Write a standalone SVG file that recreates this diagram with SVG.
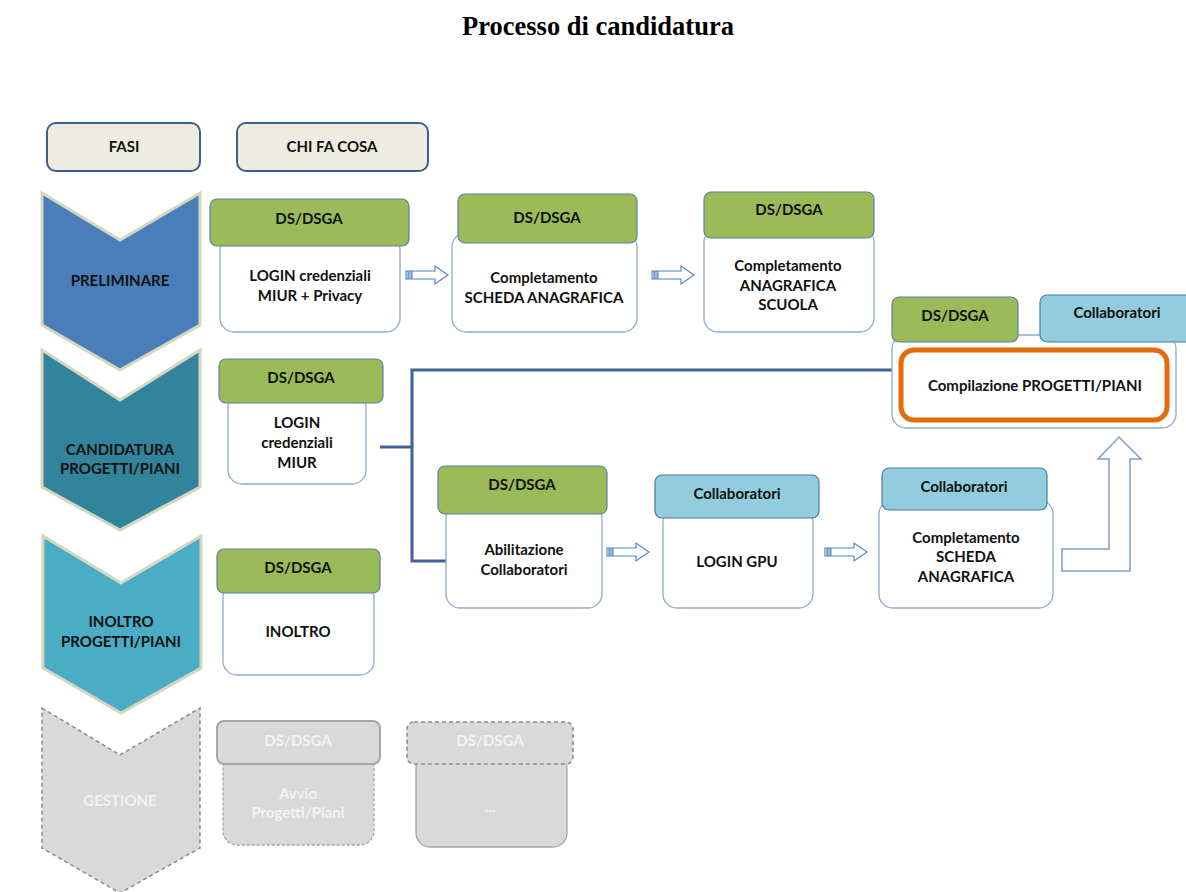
<svg xmlns="http://www.w3.org/2000/svg" width="1186" height="892" viewBox="0 0 1186 892">
<style>
text{font-family:Lato,"Liberation Sans",sans-serif;font-weight:bold;text-anchor:middle;fill:#111}
.title{font-family:"Liberation Serif",serif;font-size:26.5px;fill:#000}
.t{font-size:15px}
.h{font-size:15px}
.lbl{fill:#EEECE1;stroke:#3D5F8C;stroke-width:2}
.green{fill:#9BBB59;stroke:#5E7FA3;stroke-width:1.2}
.blue{fill:#93CDDD;stroke:#4A78AE;stroke-width:1.2}
.body{fill:#fff;stroke:#8EAAD2;stroke-width:1.3}
.chev{stroke:#D2D7BE;stroke-width:3}
.grayh{fill:#D9D9D9;stroke:#A6A6A6;stroke-width:2}
.grayd{fill:#D9D9D9;stroke:#A6A6A6;stroke-width:1.3;stroke-dasharray:3 2}
.grayt{fill:#F2F2F2}
.conn{fill:none;stroke:#3E6394;stroke-width:3}
.arr{fill:#fff;stroke:#4F81BD;stroke-width:1.1}
</style>
<defs>
<g id="sarrow" class="arr">
<rect x="0" y="-4" width="2" height="8"/>
<rect x="3" y="-4" width="2" height="8"/>
<polygon points="6,-4 29,-4 29,-9 42,0 29,9 29,4 6,4"/>
</g>
</defs>
<rect width="1186" height="892" fill="#fff"/>
<text class="title" x="598" y="35">Processo di candidatura</text>

<g id="fasi"><rect class="lbl" x="47" y="123" width="153" height="48" rx="9"/><text class="t" x="124" y="152">FASI</text></g>
<g id="chi-fa-cosa"><rect class="lbl" x="237" y="123" width="191" height="48" rx="9"/><text class="t" x="332" y="152">CHI FA COSA</text></g>

<g id="fase-preliminare"><path class="chev" fill="#4A7EBB" d="M42,193 L120,240 L200,193 L200,325 L120,370 L42,325 Z"/><text class="t" x="120" y="286">PRELIMINARE</text></g>
<g id="fase-candidatura"><path class="chev" fill="#31849B" d="M42,350 L120,400 L200,350 L200,487 L120,530 L42,487 Z"/><text class="t" x="120" y="455">CANDIDATURA</text><text class="t" x="120" y="474">PROGETTI/PIANI</text></g>
<g id="fase-inoltro"><path class="chev" fill="#4BACC6" d="M43,536 L121,583 L201,536 L201,668 L121,713 L43,668 Z"/><text class="t" x="121" y="627">INOLTRO</text><text class="t" x="121" y="647">PROGETTI/PIANI</text></g>
<g id="fase-gestione"><path fill="#D9D9D9" stroke="#8C8C8C" stroke-width="1.5" stroke-dasharray="4 3" d="M42,708 L120,755 L200,708 L200,848 L120,893 L42,848 Z"/><text class="t grayt" x="120" y="806">GESTIONE</text></g>

<g id="connectors">
<polyline class="conn" points="380,447 412,447"/>
<polyline class="conn" points="892,370 412,370 412,561 446,561"/>
<use href="#sarrow" x="406" y="275"/>
<use href="#sarrow" x="652" y="275"/>
<use href="#sarrow" x="607" y="552"/>
<use href="#sarrow" x="825" y="552"/>
<path fill="#fff" stroke="#7F9CC9" stroke-width="1.5" d="M1062,549 L1109,549 L1109,459 L1098,459 L1119,437 L1141,459 L1130,459 L1130,571 L1062,571 Z"/>
</g>

<g id="login-privacy">
<rect class="body" x="220" y="236" width="180" height="96" rx="14"/>
<rect class="green" x="210" y="199" width="199" height="47" rx="7"/>
<text class="h" x="309" y="224">DS/DSGA</text>
<text class="t" x="310" y="281">LOGIN credenziali</text>
<text class="t" x="310" y="301">MIUR  + Privacy</text>
</g>
<g id="scheda-anagrafica">
<rect class="body" x="452" y="233" width="185" height="99" rx="14"/>
<rect class="green" x="458" y="194" width="179" height="49" rx="7"/>
<text class="h" x="547" y="223">DS/DSGA</text>
<text class="t" x="544" y="283">Completamento</text>
<text class="t" x="544" y="303">SCHEDA ANAGRAFICA</text>
</g>
<g id="anagrafica-scuola">
<rect class="body" x="704" y="228" width="170" height="104" rx="14"/>
<rect class="green" x="704" y="192" width="170" height="46" rx="7"/>
<text class="h" x="789" y="215">DS/DSGA</text>
<text class="t" x="788" y="271">Completamento</text>
<text class="t" x="788" y="291">ANAGRAFICA</text>
<text class="t" x="788" y="310">SCUOLA</text>
</g>

<g id="login-miur">
<rect class="body" x="228" y="393" width="138" height="91" rx="14"/>
<rect class="green" x="219" y="359" width="164" height="44" rx="7"/>
<text class="h" x="301" y="383">DS/DSGA</text>
<text class="t" x="297" y="428">LOGIN</text>
<text class="t" x="297" y="448">credenziali</text>
<text class="t" x="297" y="468">MIUR</text>
</g>
<g id="compilazione">
<rect class="body" x="892" y="335" width="284" height="93" rx="14"/>
<rect class="green" x="892" y="297" width="126" height="45" rx="7"/>
<rect class="blue" x="1040" y="295" width="156" height="47" rx="7"/>
<text class="h" x="955" y="321">DS/DSGA</text>
<text class="h" x="1117" y="318">Collaboratori</text>
<rect x="901" y="350" width="266" height="70" rx="13" fill="#fff" stroke="#E46C0A" stroke-width="5"/>
<text class="t" x="1035" y="391">Compilazione PROGETTI/PIANI</text>
</g>
<g id="abilitazione">
<rect class="body" x="446" y="504" width="156" height="104" rx="14"/>
<rect class="green" x="438" y="466" width="169" height="48" rx="7"/>
<text class="h" x="522" y="490">DS/DSGA</text>
<text class="t" x="524" y="555">Abilitazione</text>
<text class="t" x="524" y="575">Collaboratori</text>
</g>
<g id="login-gpu">
<rect class="body" x="663" y="508" width="150" height="100" rx="14"/>
<rect class="blue" x="655" y="475" width="164" height="43" rx="7"/>
<text class="h" x="737" y="499">Collaboratori</text>
<text class="t" x="737" y="567">LOGIN GPU</text>
</g>
<g id="scheda-anagrafica-collab">
<rect class="body" x="879" y="500" width="174" height="108" rx="14"/>
<rect class="blue" x="882" y="468" width="165" height="42" rx="7"/>
<text class="h" x="964" y="492">Collaboratori</text>
<text class="t" x="966" y="543">Completamento</text>
<text class="t" x="966" y="562">SCHEDA</text>
<text class="t" x="966" y="582">ANAGRAFICA</text>
</g>

<g id="inoltro">
<rect class="body" x="223" y="583" width="151" height="92" rx="14"/>
<rect class="green" x="217" y="549" width="163" height="44" rx="7"/>
<text class="h" x="298" y="573">DS/DSGA</text>
<text class="t" x="298" y="637">INOLTRO</text>
</g>
<g id="avvio">
<rect class="grayd" x="223" y="754" width="151" height="91" rx="14"/>
<rect class="grayh" x="217" y="721" width="163" height="43" rx="7"/>
<text class="h grayt" x="298" y="746">DS/DSGA</text>
<text class="t grayt" x="298" y="799">Avvio</text>
<text class="t grayt" x="298" y="818">Progetti/Piani</text>
</g>
<g id="altro">
<rect fill="#D9D9D9" stroke="#A6A6A6" stroke-width="1.3" x="416" y="754" width="151" height="93" rx="14"/>
<rect class="grayd" style="stroke:#8C8C8C;stroke-width:1.6;stroke-dasharray:4 3" x="407" y="722" width="166" height="42" rx="7"/>
<text class="h grayt" x="490" y="746">DS/DSGA</text>
<text class="t grayt" x="490" y="812">...</text>
</g>
</svg>
